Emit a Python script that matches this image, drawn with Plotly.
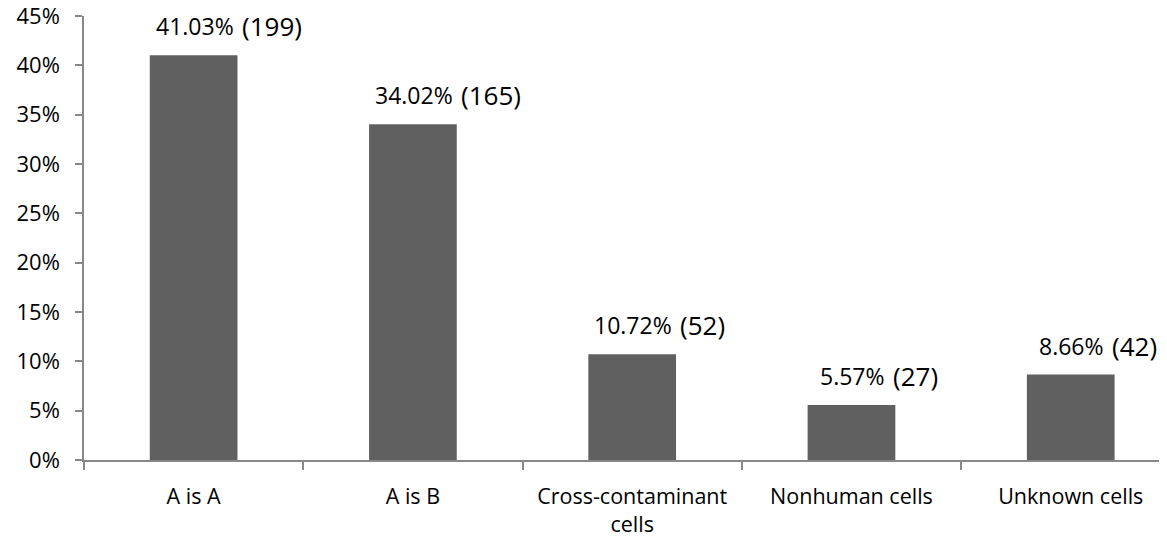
import plotly.graph_objects as go

categories = ["A is A", "A is B", "Cross-contaminant<br>cells", "Nonhuman cells", "Unknown cells"]
percent_values = [41.03, 34.02, 10.72, 5.57, 8.66]
percent_labels = ["41.03%", "34.02%", "10.72%", "5.57%", "8.66%"]
count_labels = ["(199)", "(165)", "(52)", "(27)", "(42)"]
y_ticks = [0, 5, 10, 15, 20, 25, 30, 35, 40, 45]
y_tick_labels = ["0%", "5%", "10%", "15%", "20%", "25%", "30%", "35%", "40%", "45%"]

FONT = "Open Sans"
AXIS_COLOR = "#888888"
PCT_SIZE = 23
CNT_SIZE = 26

fig = go.Figure()
fig.add_trace(go.Bar(
    x=categories,
    y=percent_values,
    marker=dict(color="#606060", line=dict(width=0)),
    hoverinfo="skip",
))

for cat, val, pl, cl in zip(categories, percent_values, percent_labels, count_labels):
    fig.add_annotation(
        x=cat, y=val, xref="x", yref="y",
        text=pl, showarrow=False,
        xanchor="center", yanchor="middle",
        xshift=1, yshift=29,
        font=dict(family=FONT, size=PCT_SIZE, color="#000000"),
    )
    # place count just to the right of the percent label
    half_w = 0.5 * len(pl) * 0.565 * PCT_SIZE
    fig.add_annotation(
        x=cat, y=val, xref="x", yref="y",
        text=cl, showarrow=False,
        xanchor="left", yanchor="middle",
        xshift=half_w + 7, yshift=29,
        font=dict(family=FONT, size=CNT_SIZE, color="#000000"),
    )

# The page body has an 8px default margin, so the figure is sized to fit the window.
fig.update_layout(
    width=1159, height=532,
    margin=dict(l=76, r=0, t=8, b=80),
    paper_bgcolor="white", plot_bgcolor="white",
    bargap=0.6,
    showlegend=False,
    font=dict(family=FONT, size=23, color="#000000"),
    xaxis=dict(
        type="category",
        range=[-0.5, 4.439],
        automargin=False,
        showline=True, linecolor=AXIS_COLOR, linewidth=1.5,
        ticks="outside", tickson="boundaries", ticklen=8, tickcolor=AXIS_COLOR, tickwidth=1.5,
        ticklabelstandoff=16,
        showgrid=False, zeroline=False,
        tickfont=dict(family=FONT, size=21.5, color="#000000"),
    ),
    yaxis=dict(
        range=[0, 45.001],
        automargin=False,
        tickmode="array", tickvals=y_ticks, ticktext=y_tick_labels,
        showline=True, linecolor=AXIS_COLOR, linewidth=1.5,
        ticks="outside", ticklen=7, tickcolor=AXIS_COLOR, tickwidth=1.5,
        ticklabelstandoff=11,
        ticklabeloverflow="allow",
        showgrid=False, zeroline=False,
        tickfont=dict(family=FONT, size=22, color="#000000"),
    ),
)

fig.write_html("out.html")
